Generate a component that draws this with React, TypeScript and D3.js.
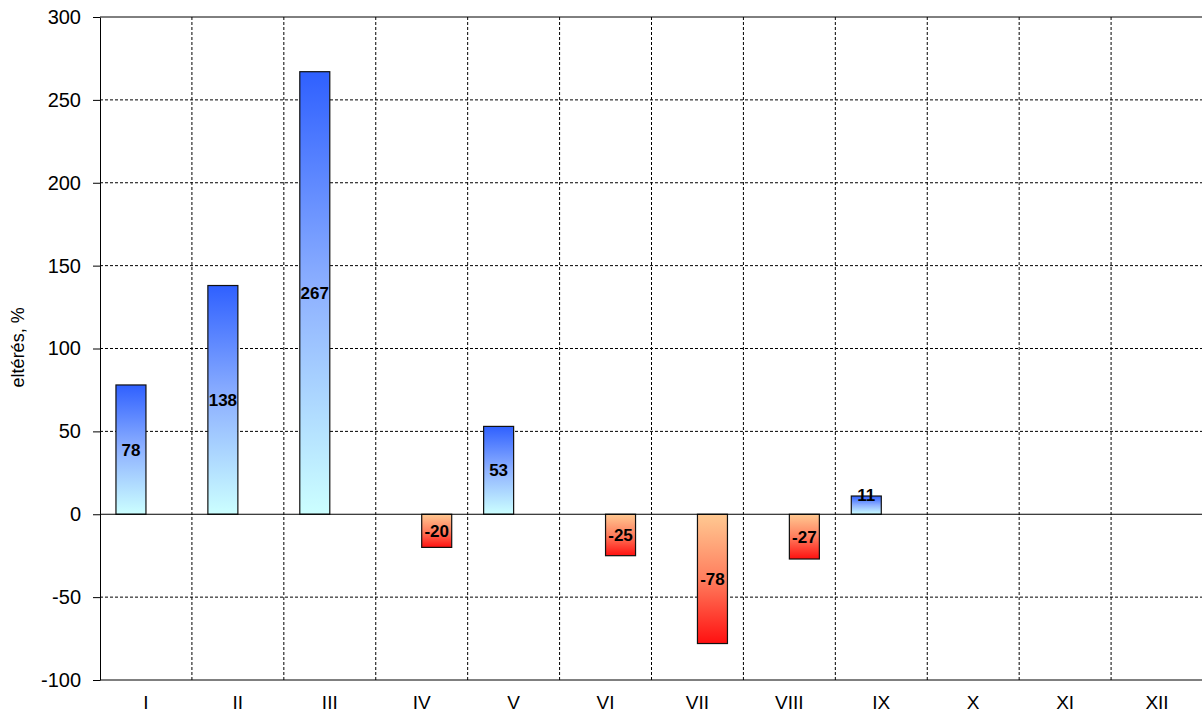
import React, { useEffect, useRef } from 'react';
import * as d3 from 'd3';

const months = ['I', 'II', 'III', 'IV', 'V', 'VI', 'VII', 'VIII', 'IX', 'X', 'XI', 'XII'];
const deviation: (number | null)[] = [78, 138, 267, -20, 53, -25, -78, -27, 11, null, null, null];
const yTicks = [-100, -50, 0, 50, 100, 150, 200, 250, 300];

const W = 1202;
const H = 714;
const FONT = 'Arial, "Liberation Sans", sans-serif';

const App: React.FC = () => {
  const svgRef = useRef<SVGSVGElement>(null);

  useEffect(() => {
    if (!svgRef.current) return;
    const margin = { left: 100, top: 17, right: -1, bottom: 34 };
    const innerWidth = W - margin.left - margin.right;
    const innerHeight = H - margin.top - margin.bottom;

    d3.select(svgRef.current).selectAll('*').remove();
    const svg = d3.select(svgRef.current).attr('width', W).attr('height', H);

    // Gradients
    const defs = svg.append('defs');
    const posGrad = defs.append('linearGradient').attr('id', 'posGrad')
      .attr('x1', 0).attr('y1', 0).attr('x2', 0).attr('y2', 1);
    posGrad.append('stop').attr('offset', '0%').attr('stop-color', '#2f60ff');
    posGrad.append('stop').attr('offset', '50%').attr('stop-color', '#8fb2ff');
    posGrad.append('stop').attr('offset', '100%').attr('stop-color', '#ccffff');
    const negGrad = defs.append('linearGradient').attr('id', 'negGrad')
      .attr('x1', 0).attr('y1', 0).attr('x2', 0).attr('y2', 1);
    negGrad.append('stop').attr('offset', '0%').attr('stop-color', '#ffc992');
    negGrad.append('stop').attr('offset', '50%').attr('stop-color', '#ff7e5e');
    negGrad.append('stop').attr('offset', '100%').attr('stop-color', '#ff1010');

    const g = svg.append('g').attr('transform', `translate(${margin.left},${margin.top})`);

    const x = d3.scaleBand<string>().domain(months).range([0, innerWidth]).padding(0);
    const bw = x.bandwidth();
    const barW = 30;
    const xSeries = d3.scaleBand<string>().domain(['pos', 'neg'])
      .range([bw / 2 - barW, bw / 2 + barW]).padding(0);
    const y = d3.scaleLinear().domain([-100, 300]).range([innerHeight, 0]);

    // Grid
    g.selectAll('.hgrid')
      .data(yTicks.filter((t) => t !== -100 && t !== 300 && t !== 0))
      .enter().append('line')
      .attr('x1', 0).attr('x2', innerWidth)
      .attr('y1', (d) => y(d)).attr('y2', (d) => y(d))
      .attr('stroke', '#000').attr('stroke-width', 1).attr('stroke-dasharray', '3,2');
    g.selectAll('.vgrid')
      .data(months.slice(1))
      .enter().append('line')
      .attr('x1', (d) => x(d) || 0).attr('x2', (d) => x(d) || 0)
      .attr('y1', 0).attr('y2', innerHeight)
      .attr('stroke', '#000').attr('stroke-width', 1).attr('stroke-dasharray', '3,2');

    // Frame lines
    g.append('line').attr('x1', 0).attr('x2', innerWidth).attr('y1', 0).attr('y2', 0)
      .attr('stroke', '#000');
    g.append('line').attr('x1', 0).attr('x2', innerWidth).attr('y1', innerHeight).attr('y2', innerHeight)
      .attr('stroke', '#000');

    // Bars
    const data = months.map((m, i) => ({ m, v: deviation[i] })).filter((d) => d.v !== null) as { m: string; v: number }[];
    g.selectAll('.bar')
      .data(data)
      .enter().append('rect')
      .attr('x', (d) => (x(d.m) || 0) + (xSeries(d.v >= 0 ? 'pos' : 'neg') || 0))
      .attr('y', (d) => y(Math.max(0, d.v)))
      .attr('width', barW)
      .attr('height', (d) => Math.abs(y(d.v) - y(0)))
      .attr('fill', (d) => (d.v >= 0 ? 'url(#posGrad)' : 'url(#negGrad)'))
      .attr('stroke', '#111').attr('stroke-width', 1.2);

    // Zero line
    g.append('line').attr('x1', 0).attr('x2', innerWidth).attr('y1', y(0)).attr('y2', y(0))
      .attr('stroke', '#000').attr('stroke-width', 1);

    // Y axis
    const yAxis = d3.axisLeft(y).tickValues(yTicks).tickFormat((d) => String(d))
      .tickSize(7).tickSizeOuter(0).tickPadding(12);
    const ya = g.append('g').call(yAxis);
    ya.select('.domain').attr('stroke', '#000');
    ya.selectAll('line').attr('stroke', '#000');
    ya.selectAll('text')
      .attr('font-family', FONT)
      .attr('font-size', 20).attr('fill', '#000');

    // X labels
    g.selectAll('.xlab')
      .data(months)
      .enter().append('text')
      .attr('x', (d) => (x(d) || 0) + bw / 2)
      .attr('y', innerHeight + 22)
      .attr('dy', '0.35em')
      .attr('text-anchor', 'middle')
      .attr('font-family', FONT)
      .attr('font-size', 19)
      .text((d) => d);

    // Value labels
    g.selectAll('.vlab')
      .data(data)
      .enter().append('text')
      .attr('x', (d) => (x(d.m) || 0) + (xSeries(d.v >= 0 ? 'pos' : 'neg') || 0) + barW / 2)
      .attr('y', (d) => (y(d.v) + y(0)) / 2 - (Math.abs(d.v) < 15 ? 10 : 0))
      .attr('dy', '0.35em')
      .attr('text-anchor', 'middle')
      .attr('font-family', FONT)
      .attr('font-weight', 'bold')
      .attr('font-size', 17)
      .attr('fill', '#000')
      .text((d) => String(d.v));

    // Y title
    svg.append('text')
      .attr('transform', `translate(18,${margin.top + y(50) - 84}) rotate(-90)`)
      .attr('dy', '0.35em')
      .attr('text-anchor', 'middle')
      .attr('font-family', FONT)
      .attr('font-size', 18)
      .text('eltérés, %');
  }, []);

  return (
    <div style={{ position: 'absolute', left: 0, top: 0, background: '#fff' }}>
      <svg ref={svgRef} style={{ display: 'block' }}></svg>
    </div>
  );
};

export default App;
